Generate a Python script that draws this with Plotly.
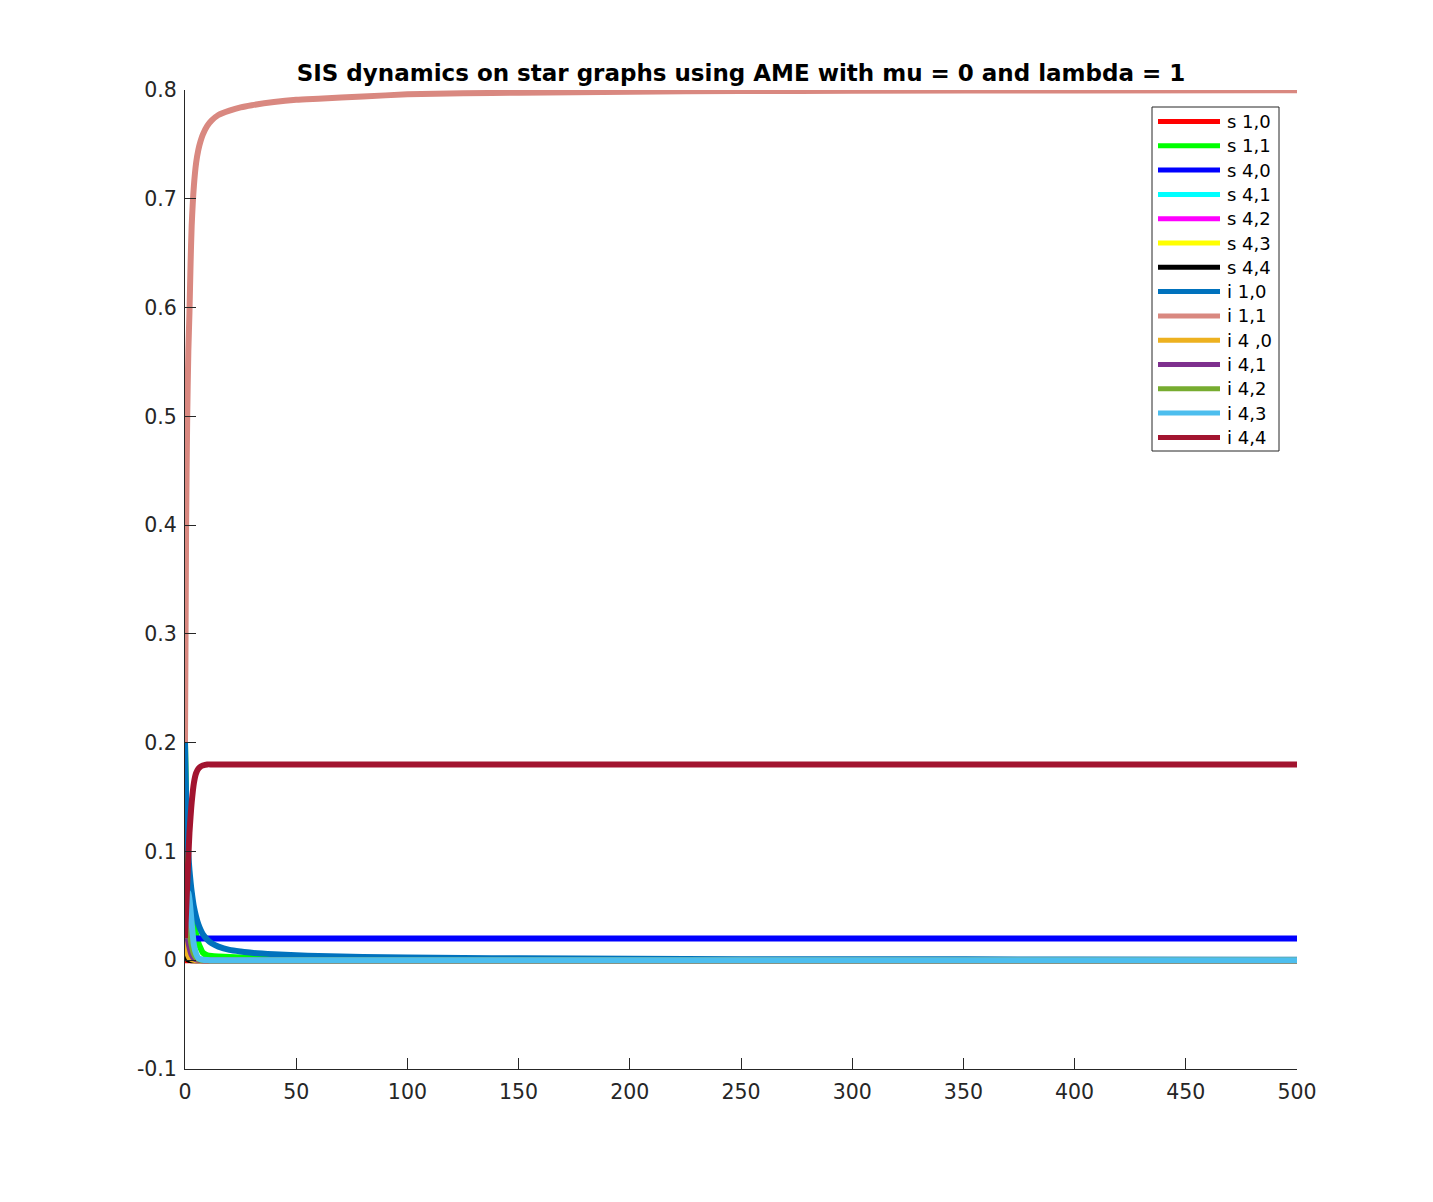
import plotly.graph_objects as go

# time samples (shared by every series)
T = [0, 0.5, 1, 1.5, 2, 2.5, 3, 4, 5, 6,
     7, 8, 10, 12, 15, 20, 25, 30, 40, 50,
     60, 80, 100, 125, 150, 200, 250, 300, 400, 500]

# susceptible classes s_{k,m}
S_1_0 = [0, 0, 0, 0, 0, 0, 0, 0, 0, 0,
         0, 0, 0, 0, 0, 0, 0, 0, 0, 0,
         0, 0, 0, 0, 0, 0, 0, 0, 0, 0]
S_1_1 = [0.2, 0.14, 0.10, 0.075, 0.06, 0.05, 0.042, 0.032, 0.024, 0.016,
         0.011, 0.007, 0.0045, 0.0038, 0.0034, 0.003, 0.0025, 0.002, 0.0015, 0.0012,
         0.001, 0.0008, 0.0006, 0.0005, 0.0004, 0.0003, 0.0002, 0.0002, 0.0001, 0.0001]
S_4_0 = [0.02, 0.02, 0.02, 0.02, 0.02, 0.02, 0.02, 0.02, 0.02, 0.02,
         0.02, 0.02, 0.02, 0.02, 0.02, 0.02, 0.02, 0.02, 0.02, 0.02,
         0.02, 0.02, 0.02, 0.02, 0.02, 0.02, 0.02, 0.02, 0.02, 0.02]
S_4_1 = [0.02, 0.012, 0.007, 0.004, 0.0025, 0.0016, 0.001, 0.0004, 0.0001, 0,
         0, 0, 0, 0, 0, 0, 0, 0, 0, 0,
         0, 0, 0, 0, 0, 0, 0, 0, 0, 0]
S_4_2 = [0.02, 0.01, 0.005, 0.002, 0.001, 0.0006, 0.0003, 0.0001, 0, 0,
         0, 0, 0, 0, 0, 0, 0, 0, 0, 0,
         0, 0, 0, 0, 0, 0, 0, 0, 0, 0]
S_4_3 = [0.02, 0.008, 0.003, 0.001, 0.0005, 0.0002, 0.0001, 0, 0, 0,
         0, 0, 0, 0, 0, 0, 0, 0, 0, 0,
         0, 0, 0, 0, 0, 0, 0, 0, 0, 0]
S_4_4 = [0.02, 0.006, 0.002, 0.0006, 0.0002, 0.0001, 0, 0, 0, 0,
         0, 0, 0, 0, 0, 0, 0, 0, 0, 0,
         0, 0, 0, 0, 0, 0, 0, 0, 0, 0]

# infected classes i_{k,m}
I_1_0 = [0.2, 0.15, 0.115, 0.097, 0.083, 0.072, 0.063, 0.049, 0.04, 0.033,
         0.028, 0.024, 0.019, 0.0155, 0.0125, 0.0095, 0.008, 0.0068, 0.0055, 0.0046,
         0.0038, 0.003, 0.0024, 0.002, 0.0017, 0.0013, 0.001, 0.0009, 0.0007, 0.0005]
I_1_1 = [0.2, 0.40, 0.50, 0.56, 0.595, 0.64, 0.675, 0.712, 0.733, 0.745,
         0.753, 0.759, 0.767, 0.772, 0.777, 0.781, 0.784, 0.786, 0.789, 0.791,
         0.792, 0.794, 0.796, 0.797, 0.7975, 0.7985, 0.799, 0.7993, 0.7996, 0.7998]
I_4_0 = [0.02, 0.012, 0.007, 0.004, 0.002, 0.0015, 0.001, 0.0003, 0.0001, 0,
         0, 0, 0, 0, 0, 0, 0, 0, 0, 0,
         0, 0, 0, 0, 0, 0, 0, 0, 0, 0]
I_4_1 = [0.02, 0.025, 0.022, 0.017, 0.012, 0.008, 0.005, 0.002, 0.0008, 0.0003,
         0.0001, 0, 0, 0, 0, 0, 0, 0, 0, 0,
         0, 0, 0, 0, 0, 0, 0, 0, 0, 0]
I_4_2 = [0.02, 0.035, 0.038, 0.034, 0.027, 0.02, 0.014, 0.006, 0.0025, 0.001,
         0.0004, 0.0002, 0.0001, 0, 0, 0, 0, 0, 0, 0,
         0, 0, 0, 0, 0, 0, 0, 0, 0, 0]
I_4_3 = [0.02, 0.045, 0.058, 0.062, 0.056, 0.046, 0.034, 0.014, 0.006, 0.002,
         0.001, 0.0005, 0.0002, 0, 0, 0, 0, 0, 0, 0,
         0, 0, 0, 0, 0, 0, 0, 0, 0, 0]
I_4_4 = [0.02, 0.045, 0.07, 0.095, 0.117, 0.132, 0.145, 0.163, 0.172, 0.176,
         0.178, 0.179, 0.18, 0.18, 0.18, 0.18, 0.18, 0.18, 0.18, 0.18,
         0.18, 0.18, 0.18, 0.18, 0.18, 0.18, 0.18, 0.18, 0.18, 0.18]

SERIES = [
    ("s 1,0", S_1_0, "#FF0000"),
    ("s 1,1", S_1_1, "#00FF00"),
    ("s 4,0", S_4_0, "#0000FF"),
    ("s 4,1", S_4_1, "#00FFFF"),
    ("s 4,2", S_4_2, "#FF00FF"),
    ("s 4,3", S_4_3, "#FFFF00"),
    ("s 4,4", S_4_4, "#000000"),
    ("i 1,0", I_1_0, "#0072BD"),
    ("i 1,1", I_1_1, "#D98880"),
    ("i 4 ,0", I_4_0, "#EDB120"),
    ("i 4,1", I_4_1, "#7E2F8E"),
    ("i 4,2", I_4_2, "#77AC30"),
    ("i 4,3", I_4_3, "#4DBEEE"),
    ("i 4,4", I_4_4, "#A2142F"),
]

X_TICKS = [0, 50, 100, 150, 200, 250, 300, 350, 400, 450, 500]
Y_TICKS = [-0.1, 0, 0.1, 0.2, 0.3, 0.4, 0.5, 0.6, 0.7, 0.8]
Y_LABELS = ["-0.1", "0", "0.1", "0.2", "0.3", "0.4", "0.5", "0.6", "0.7", "0.8"]

AX = "#262626"
FONT = "DejaVu Sans"
W, H = 1425, 1194          # page body adds 8px margin around the plot div
PLOT_W, PLOT_H = 1112, 979


def px(x):  # page x pixel -> paper x
    return (x - 185) / PLOT_W


def py(y):  # page y pixel -> paper y
    return (1069 - y) / PLOT_H


fig = go.Figure()
for name, ys, col in SERIES:
    fig.add_trace(go.Scatter(x=T, y=ys, name=name, mode="lines",
                             line=dict(color=col, width=6, shape="spline",
                                       smoothing=0.6)))

# MATLAB-style legend box: long line samples, tight rows
shapes = [dict(type="rect", xref="paper", yref="paper",
               x0=px(1152), x1=px(1279), y0=py(451), y1=py(107),
               line=dict(color=AX, width=1), fillcolor="white", layer="above")]
annotations = []
for k, (name, _, col) in enumerate(SERIES):
    yy = py(121.5 + 24.3 * k)
    shapes.append(dict(type="line", xref="paper", yref="paper",
                       x0=px(1158), x1=px(1220), y0=yy, y1=yy,
                       line=dict(color=col, width=5), layer="above"))
    annotations.append(dict(xref="paper", yref="paper", x=px(1225), y=yy,
                            text=name, showarrow=False, xanchor="left",
                            yanchor="middle",
                            font=dict(family=FONT, size=18, color="black")))

fig.update_layout(
    width=W, height=H,
    paper_bgcolor="white", plot_bgcolor="white",
    margin=dict(l=177, r=W - 177 - PLOT_W, t=82, b=H - 82 - PLOT_H),
    font=dict(family=FONT, color=AX, size=20.5),
    title=dict(text="<b>SIS dynamics on star graphs using AME with mu = 0 and lambda = 1</b>",
               x=0.5, xref="paper", xanchor="center",
               y=1 - 65 / H, yref="container", yanchor="middle",
               font=dict(family=FONT, size=23, color="black")),
    showlegend=False,
    shapes=shapes,
    annotations=annotations,
)
fig.update_xaxes(range=[0, 500], tickvals=X_TICKS, ticks="inside", ticklen=11,
                 tickcolor=AX, showline=True, linecolor=AX, linewidth=1,
                 showgrid=False, zeroline=False, mirror=False,
                 ticklabelstandoff=4)
fig.update_yaxes(range=[-0.1, 0.8], tickvals=Y_TICKS, ticktext=Y_LABELS,
                 ticks="inside", ticklen=11, tickcolor=AX, showline=True,
                 linecolor=AX, linewidth=1, showgrid=False, zeroline=False,
                 mirror=False, ticklabelstandoff=3)

fig.write_html("out.html")
